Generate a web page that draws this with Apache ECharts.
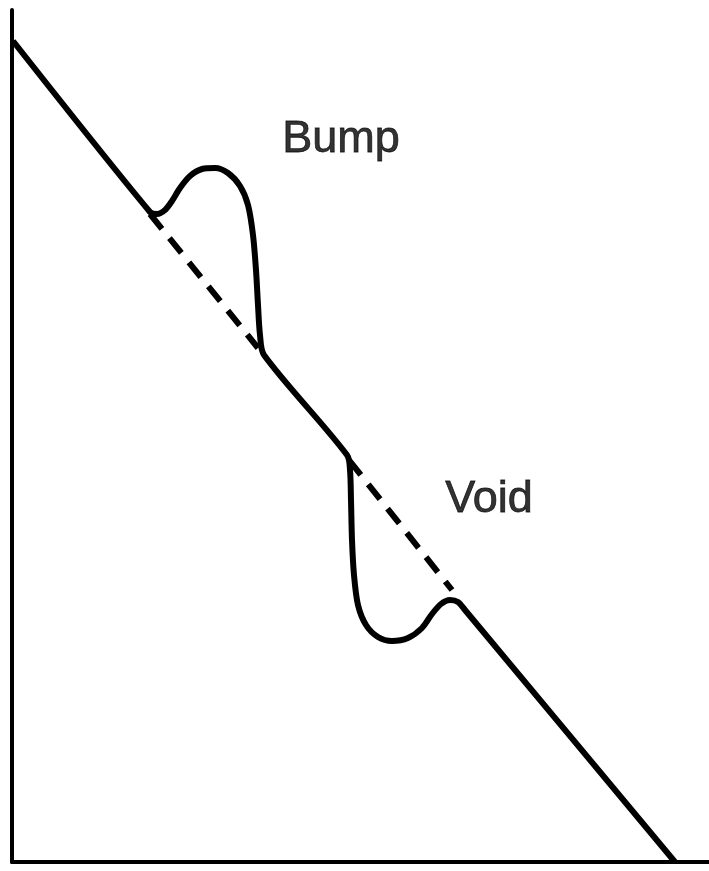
<!DOCTYPE html>
<html>
<head>
<meta charset="utf-8">
<script src="https://cdn.jsdelivr.net/npm/echarts@6/dist/echarts.min.js"></script>
<style>
  html, body { margin: 0; padding: 0; background: #fff; }
  #chart { width: 709px; height: 871px; }
</style>
</head>
<body>
<div id="chart"></div>
<script>
// profile drawn as a solid line: straight slope with a bump above and a void below
var profile = [
  [1, 821], [138, 650],
  // bump
  [145, 648], [153, 652], [160, 661], [168, 674], [178, 686], [190, 693],
  [203, 694], [216, 689], [228, 676], [236, 657], [241, 627], [244, 592],
  [246, 557], [248, 527], [252, 507],
  [335, 407],
  // void
  [338, 392], [339, 362], [340, 322], [342, 287], [346, 257], [354, 237],
  [366, 225], [380, 221], [396, 224], [410, 234], [420, 248], [429, 258],
  [438, 262], [446, 260], [453, 252],
  [663, 0]
];
// the ideal slope where the bump / void sit
var idealBump = [[138, 648], [246, 514]];
var idealVoid = [[337, 402], [440, 272]];
// text labels
var labels = [
  { name: "Bump", value: [329, 722] },
  { name: "Void", value: [477, 362] }
];

var myChart = echarts.init(document.getElementById("chart"));
myChart.setOption({
  animation: false,
  grid: {
    left: 12,
    right: 0,
    top: 10,
    bottom: 9
  },
  xAxis: {
    type: "value",
    min: 0,
    max: 697,
    axisLabel: { show: false },
    axisTick: { show: false },
    splitLine: { show: false },
    axisLine: {
      show: true,
      onZero: false,
      lineStyle: { color: "#000", width: 4 }
    }
  },
  yAxis: {
    type: "value",
    min: 0,
    max: 852,
    axisLabel: { show: false },
    axisTick: { show: false },
    splitLine: { show: false },
    axisLine: {
      show: true,
      onZero: false,
      lineStyle: { color: "#000", width: 4 }
    }
  },
  series: [
    {
      type: "line",
      data: profile,
      smooth: 0.3,
      showSymbol: false,
      lineStyle: { color: "#000", width: 6 }
    },
    {
      type: "line",
      data: idealBump,
      showSymbol: false,
      lineStyle: { color: "#000", width: 6, type: [19, 12] }
    },
    {
      type: "line",
      data: idealVoid,
      showSymbol: false,
      lineStyle: { color: "#000", width: 6, type: [19, 12] }
    },
    {
      type: "scatter",
      data: labels,
      symbolSize: 0,
      itemStyle: { color: "#000" },
      label: {
        show: true,
        position: "inside",
        formatter: "{b}",
        color: "#000000",
        textBorderColor: "#000000",
        textBorderWidth: 0.8,
        fontFamily: "Liberation Sans",
        fontSize: 45
      }
    }
  ]
});
</script>
</body>
</html>
